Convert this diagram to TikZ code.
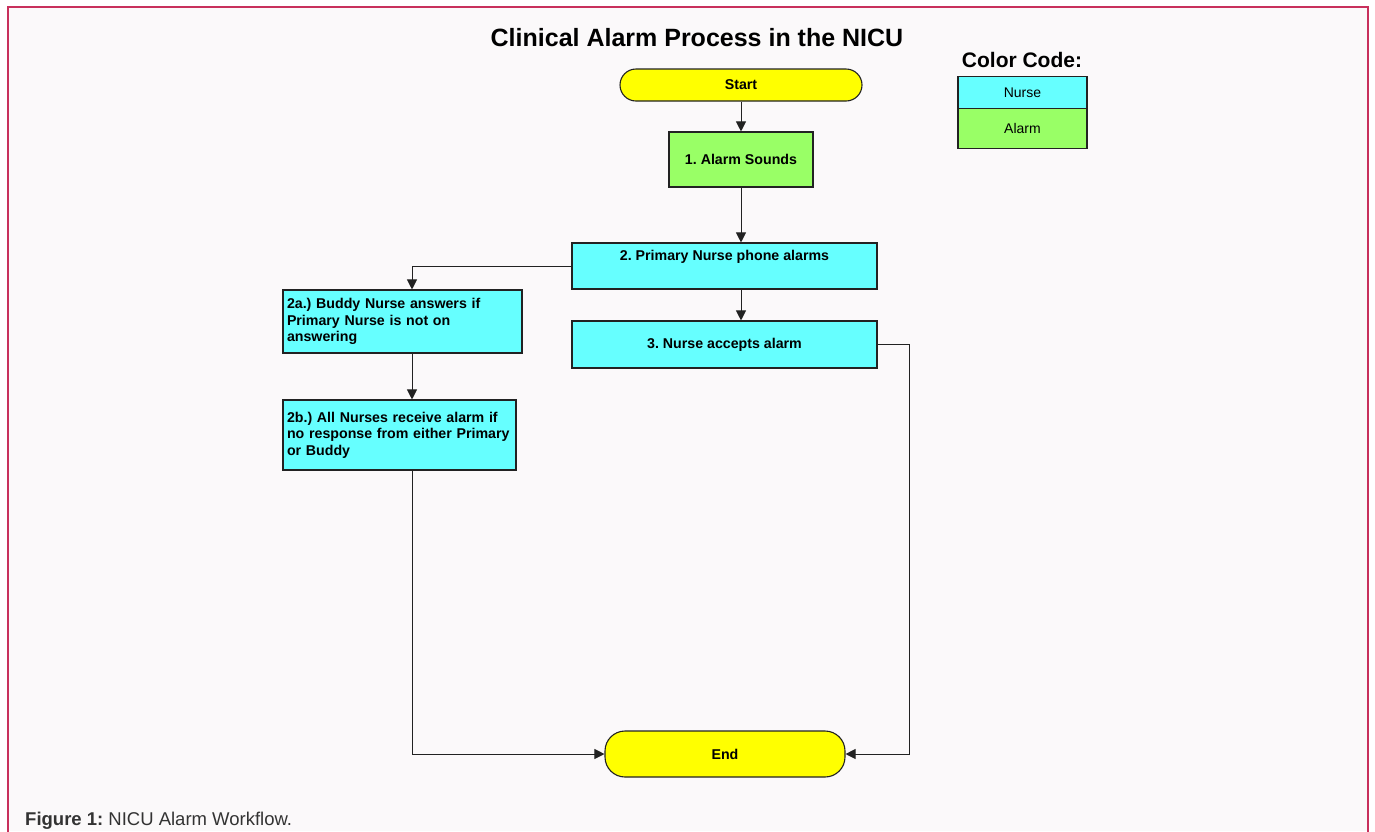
\documentclass[tikz,border=0pt]{standalone}
\usepackage{fontspec}
\setmainfont{Liberation Sans}
\usetikzlibrary{arrows.meta}
\frenchspacing
\definecolor{frame}{HTML}{C8305C}
\definecolor{pagebg}{HTML}{FBF9FA}
\definecolor{nursec}{HTML}{66FFFF}
\definecolor{alarmc}{HTML}{99FF66}
\definecolor{termc}{HTML}{FFFF00}
\definecolor{linec}{HTML}{222222}
\definecolor{capc}{HTML}{333333}
\tikzset{
  boxbase/.style={draw=linec, line width=1.1pt, inner sep=0pt, font=\fontsize{14.2}{16.5}\selectfont\bfseries},
  nursebox/.style={boxbase, fill=nursec},
  alarmbox/.style={boxbase, fill=alarmc},
  termbox/.style={boxbase, fill=termc},
  legendbox/.style={draw=linec, line width=1.1pt, inner sep=0pt, font=\fontsize{14}{16.5}\selectfont, minimum width=129pt},
  flow/.style={draw=linec, line width=1pt, -{Triangle[length=10pt,width=10pt]}},
}
\begin{document}
\begin{tikzpicture}[x=1pt,y=-1pt]
\useasboundingbox (0,0) rectangle (1375,831);
\fill[white] (0,0) rectangle (1375,831);
\fill[pagebg] (8,7) rectangle (1368,831);
\draw[frame, line width=2pt] (8,840) -- (8,7) -- (1368,7) -- (1368,840);

\node[anchor=base, font=\fontsize{25}{28}\selectfont\bfseries] (title) at (697,46) {Clinical Alarm Process in the NICU};

\node[termbox, rounded corners=16pt, minimum width=242pt, minimum height=32pt] (start) at (741,85) {Start};
\node[alarmbox, minimum width=144pt, minimum height=55pt] (s1) at (741,159.5) {1. Alarm Sounds};
\node[nursebox, minimum width=305pt, minimum height=46pt, align=center] (s2) at (724.5,266) {2. Primary Nurse phone alarms\\ \strut};
\node[nursebox, minimum width=305pt, minimum height=47pt] (s3) at (724.5,344.5) {3. Nurse accepts alarm};
\node[nursebox, minimum width=239pt, minimum height=63pt, text width=231pt, inner xsep=4pt, align=left] (s2a) at (402.5,321.5) {2a.) Buddy Nurse answers if\\Primary Nurse is not on\\answering};
\node[nursebox, minimum width=233pt, minimum height=70pt, text width=225pt, inner xsep=4pt, align=left] (s2b) at (399.5,435) {2b.) All Nurses receive alarm if\\no response from either Primary\\or Buddy};
\node[termbox, rounded corners=20pt, minimum width=240pt, minimum height=46pt] (end) at (725,754) {End};

\coordinate (cx) at (412,0);
\coordinate (cm) at (741,0);
\coordinate (cr) at (909,0);

\draw[flow] (start.south -| cm) -- (s1.north -| cm);
\draw[flow] (s1.south -| cm) -- (s2.north -| cm);
\draw[flow] (s2.south -| cm) -- (s3.north -| cm);
\draw[flow] (s2.west) -| (s2a.north -| cx);
\draw[flow] (s2a.south -| cx) -- (s2b.north -| cx);
\draw[flow] (s2b.south -| cx) |- (end.west);
\draw[flow] (s3.east) -| (cr |- end.east) -- (end.east);

\node[font=\fontsize{21}{24}\selectfont\bfseries, anchor=base] (cc) at (1022,67.5) {Color Code:};
\node[legendbox, fill=nursec, minimum height=31.5pt] (lnurse) at (1022.5,92.5) {Nurse};
\node[legendbox, fill=alarmc, minimum height=40pt] (lalarm) at (1022.5,128.25) {Alarm};

\node[anchor=base west, font=\fontsize{18.5}{22}\selectfont, text=capc, inner sep=0pt] (cap) at (25,825) {\textbf{Figure 1:} NICU Alarm Workflow.};
\end{tikzpicture}
\end{document}
